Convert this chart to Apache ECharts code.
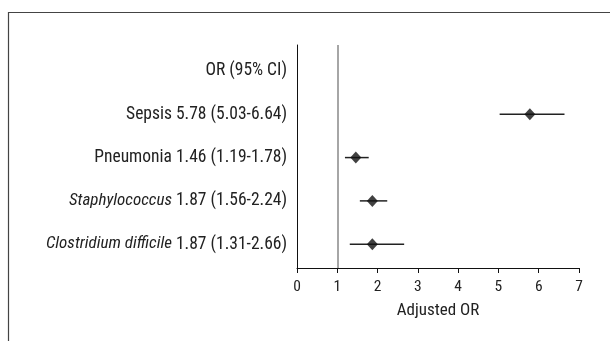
<!DOCTYPE html>
<html><head><meta charset="utf-8">
<script src="https://cdn.jsdelivr.net/npm/echarts@6/dist/echarts.min.js"></script>
<style>html,body{margin:0;padding:0;background:#fff}#c{width:610px;height:341px}</style>
</head><body><div id="c"></div>
<script>
const rowNames = ["Clostridium difficile", "Staphylococcus", "Pneumonia", "Sepsis", "OR (95% CI)"];
const rowItalic = [true, true, false, false, false];
const orValues = [1.87, 1.87, 1.46, 5.78];
const ciLow = [1.31, 1.56, 1.19, 5.03];
const ciHigh = [2.66, 2.24, 1.78, 6.64];
const xTicks = [0, 1, 2, 3, 4, 5, 6, 7];

const FONT = '"Roboto Condensed", "Liberation Sans Narrow", "DejaVu Sans Condensed", sans-serif';
function rowLabel(i) {
  if (i === 4) return '{n|' + rowNames[i] + '}';
  const stat = orValues[i].toFixed(2) + ' (' + ciLow[i].toFixed(2) + '-' + ciHigh[i].toFixed(2) + ')';
  return (rowItalic[i] ? '{i|' + rowNames[i] + '}' : '{n|' + rowNames[i] + '}') + '{n| ' + stat + '}';
}
const chart = echarts.init(document.getElementById('c'));
chart.setOption({
  animation: false,
  graphic: [{type: 'rect', shape: {x: 8.5, y: 12.5, width: 700, height: 400}, style: {fill: 'none', stroke: '#444', lineWidth: 1.2}, silent: true}],
  grid: {left: 297, right: 31, top: 45, bottom: 73},
  xAxis: {
    type: 'value', min: 0, max: 7, interval: 1,
    axisLine: {show: true, onZero: false, lineStyle: {color: '#111', width: 1}},
    axisTick: {show: true, length: 5, lineStyle: {color: '#111'}},
    splitLine: {show: false},
    axisLabel: {color: '#222', fontFamily: FONT, fontSize: 15.5, margin: 11, formatter: v => String(v)},
    name: 'Adjusted OR', nameLocation: 'middle', nameGap: 34,
    nameTextStyle: {color: '#222', fontFamily: FONT, fontSize: 17, verticalAlign: 'top'}
  },
  yAxis: {
    type: 'value', min: -0.55, max: 4.6,
    axisLine: {show: true, onZero: false, lineStyle: {color: '#111', width: 1}},
    axisTick: {show: false},
    splitLine: {show: false},
    axisLabel: {
      customValues: [0, 1, 2, 3, 4], margin: 10,
      formatter: v => rowLabel(Math.round(v)),
      rich: {
        n: {color: '#222', fontFamily: FONT, fontSize: 17.5},
        i: {color: '#222', fontFamily: FONT, fontSize: 17, fontStyle: 'italic'}
      }
    }
  },
  series: [
    {
      type: 'custom',
      data: orValues.map((v, i) => [ciLow[i], ciHigh[i], i]),
      renderItem: (params, api) => {
        const a = api.coord([api.value(0), api.value(2)]);
        const b = api.coord([api.value(1), api.value(2)]);
        return {type: 'line', shape: {x1: a[0], y1: a[1], x2: b[0], y2: b[1]}, style: {stroke: '#222', lineWidth: 1.5}};
      },
      encode: {x: [0, 1], y: 2},
      z: 2
    },
    {
      type: 'scatter',
      data: orValues.map((v, i) => [v, i]),
      symbol: 'diamond', symbolSize: [11, 12],
      itemStyle: {color: '#111'},
      z: 3,
      markLine: {
        silent: true, symbol: 'none', label: {show: false},
        lineStyle: {color: '#888', width: 1.5, type: 'solid'},
        data: [{xAxis: 1}]
      }
    }
  ]
});
</script></body></html>
